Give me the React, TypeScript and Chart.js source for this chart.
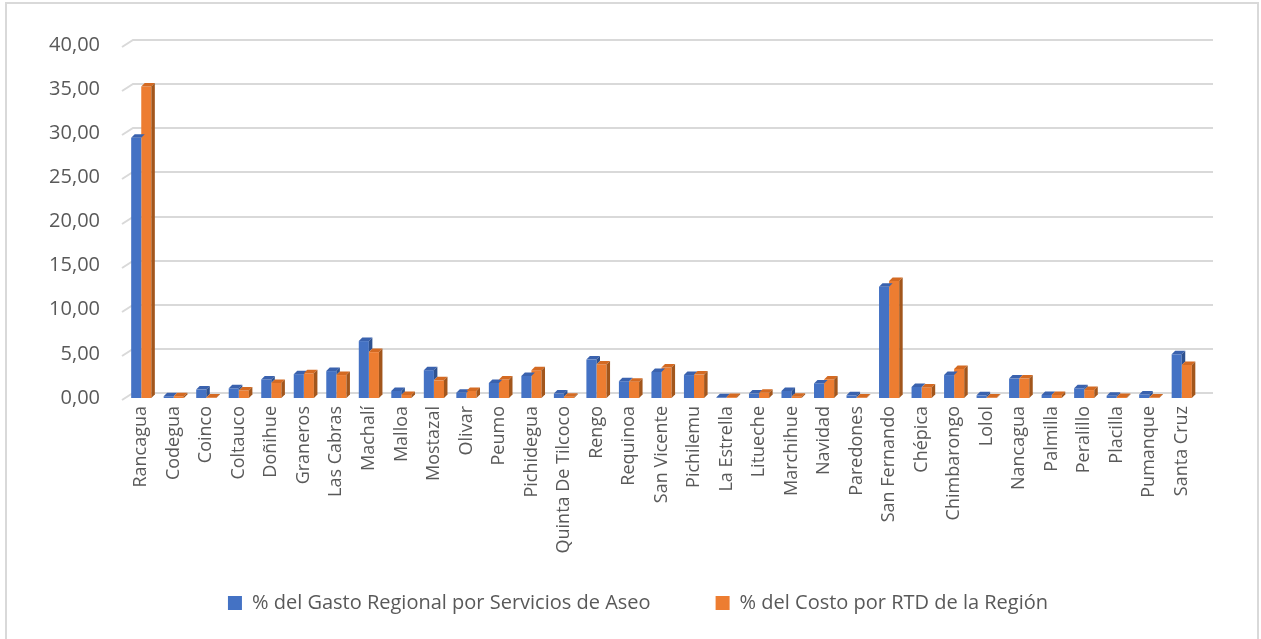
import { useEffect, useRef } from "react";
import { Chart, registerables } from "chart.js";

Chart.register(...registerables);

const categories = [
  "Rancagua", "Codegua", "Coinco", "Coltauco", "Doñihue", "Graneros", "Las Cabras",
  "Machalí", "Malloa", "Mostazal", "Olivar", "Peumo", "Pichidegua", "Quinta De Tilcoco",
  "Rengo", "Requinoa", "San Vicente", "Pichilemu", "La Estrella", "Litueche", "Marchihue",
  "Navidad", "Paredones", "San Fernando", "Chépica", "Chimbarongo", "Lolol", "Nancagua",
  "Palmilla", "Peralillo", "Placilla", "Pumanque", "Santa Cruz",
];

const gastoAseo = [
  29.5, 0.2, 0.95, 1.1, 2.1, 2.7, 3.05,
  6.45, 0.8, 3.15, 0.6, 1.7, 2.5, 0.5,
  4.35, 1.9, 2.95, 2.6, 0.08, 0.5, 0.8,
  1.65, 0.3, 12.6, 1.25, 2.6, 0.3, 2.2,
  0.35, 1.1, 0.25, 0.4, 4.95,
];

const costoRTD = [
  35.3, 0.2, 0.07, 0.85, 1.7, 2.8, 2.6,
  5.2, 0.35, 2.0, 0.8, 2.1, 3.15, 0.15,
  3.8, 1.85, 3.45, 2.65, 0.1, 0.6, 0.15,
  2.1, 0.07, 13.25, 1.2, 3.3, 0.07, 2.2,
  0.35, 0.9, 0.12, 0.07, 3.75,
];

const seriesNames = [
  "% del Gasto Regional por Servicios de Aseo",
  "% del Costo por RTD de la Región",
];

const yMin = 0;
const yMax = 40;
const yStep = 5;

const BLUE = "#4472C4";
const ORANGE = "#ED7D31";
const BLUE_TOP = "#3A62AE";
const BLUE_SIDE = "#2F5290";
const ORANGE_TOP = "#D46A22";
const ORANGE_SIDE = "#A2561C";
const TEXT = "#595959";
const GRID = "#D9D9D9";
const FONT = "'Open Sans', sans-serif";

function face(ctx: CanvasRenderingContext2D, pts: number[][], color: string) {
  ctx.beginPath();
  ctx.moveTo(pts[0][0], pts[0][1]);
  for (let i = 1; i < pts.length; i++) ctx.lineTo(pts[i][0], pts[i][1]);
  ctx.closePath();
  ctx.fillStyle = color;
  ctx.fill();
}

const depthPlugin = {
  id: "depth3d",
  beforeDatasetsDraw(chart: any) {
    const ctx = chart.ctx as CanvasRenderingContext2D;
    const ys = chart.scales.y;
    const { left, right } = chart.chartArea;
    ctx.save();
    ctx.strokeStyle = GRID;
    ctx.lineWidth = 2;
    ys.ticks.forEach((t: any) => {
      const y = Math.round(ys.getPixelForValue(t.value));
      ctx.beginPath();
      ctx.moveTo(left - 3, y + 2);
      ctx.lineTo(left + 8, y - 5);
      ctx.lineTo(right + 15, y - 5);
      ctx.stroke();
    });
    ctx.restore();
  },
  afterDatasetsDraw(chart: any) {
    const ctx = chart.ctx as CanvasRenderingContext2D;
    const m0 = chart.getDatasetMeta(0).data;
    const m1 = chart.getDatasetMeta(1).data;
    const d = 3.5;
    const dy = 3.5;
    ctx.save();
    for (let i = 0; i < m0.length; i++) {
      const b = m0[i].getProps(["x", "y", "base", "width"], true);
      const o = m1[i].getProps(["x", "y", "base", "width"], true);
      const bl = b.x - b.width / 2, br = b.x + b.width / 2;
      const ol = o.x - o.width / 2, orr = o.x + o.width / 2;
      face(ctx, [[bl, b.y], [bl + d, b.y - dy], [br + d, b.y - dy], [br, b.y]], BLUE_TOP);
      if (b.y < o.y) {
        face(ctx, [[br, b.y], [br + d, b.y - dy], [br + d, o.y - dy], [br, o.y]], BLUE_SIDE);
      }
      face(ctx, [[ol, o.y], [ol + d, o.y - dy], [orr + d, o.y - dy], [orr, o.y]], ORANGE_TOP);
      face(ctx, [[orr, o.y], [orr + d, o.y - dy], [orr + d, o.base - dy], [orr, o.base]], ORANGE_SIDE);
    }
    ctx.restore();
  },
};

export default function App() {
  const ref = useRef<HTMLCanvasElement | null>(null);

  useEffect(() => {
    if (!ref.current) return;
    Chart.defaults.font.family = FONT;
    const chart = new Chart(ref.current, {
      type: "bar",
      data: {
        labels: categories,
        datasets: [
          {
            label: seriesNames[0],
            data: gastoAseo,
            backgroundColor: BLUE,
            borderWidth: 0,
            categoryPercentage: 0.62,
            barPercentage: 1.0,
          },
          {
            label: seriesNames[1],
            data: costoRTD,
            backgroundColor: ORANGE,
            borderWidth: 0,
            categoryPercentage: 0.62,
            barPercentage: 1.0,
          },
        ],
      },
      options: {
        responsive: false,
        animation: false,
        layout: { padding: { top: 45, left: 15, bottom: 16, right: 0 } },
        plugins: {
          title: { display: false },
          tooltip: { enabled: false },
          legend: {
            position: "bottom",
            labels: {
              boxWidth: 14,
              boxHeight: 14,
              padding: 65,
              color: TEXT,
              font: { family: FONT, size: 20 },
            },
          },
        },
        scales: {
          x: {
            grid: { display: false, drawTicks: false },
            border: { display: false },
            ticks: {
              autoSkip: false,
              minRotation: 90,
              maxRotation: 90,
              padding: 8,
              color: TEXT,
              font: { family: FONT, size: 18 },
            },
            afterFit: (s: any) => {
              s.height = 130;
              // let long rotated labels extend below the axis box (as in the reference)
              s._computeLabelArea = () => undefined;
            },
          },
          y: {
            min: yMin,
            max: yMax,
            grid: { display: false, drawTicks: false },
            border: { display: false },
            ticks: {
              stepSize: yStep,
              padding: 25,
              color: TEXT,
              font: { family: FONT, size: 20 },
              callback: (v: any) => Number(v).toFixed(2).replace(".", ","),
            },
            afterFit: (s: any) => {
              s.width = 110;
            },
          },
          y2: {
            position: "right",
            display: true,
            grid: { display: false, drawTicks: false },
            border: { display: false },
            ticks: { display: false },
            afterFit: (s: any) => {
              s.width = 63;
            },
          },
        },
      },
      plugins: [depthPlugin],
    } as any);
    return () => chart.destroy();
  }, []);

  return (
    <div
      style={{
        position: "absolute",
        left: 0,
        top: 0,
        width: 1261,
        height: 639,
        overflow: "hidden",
        background: "#ffffff",
      }}
    >
      <div
        style={{
          position: "absolute",
          left: 5,
          top: 2,
          width: 1254,
          height: 700,
          border: `2px solid ${GRID}`,
          boxSizing: "border-box",
        }}
      />
      <canvas
        ref={ref}
        width={1261}
        height={639}
        style={{ position: "absolute", left: 0, top: 0, width: 1261, height: 639 }}
      />
    </div>
  );
}
